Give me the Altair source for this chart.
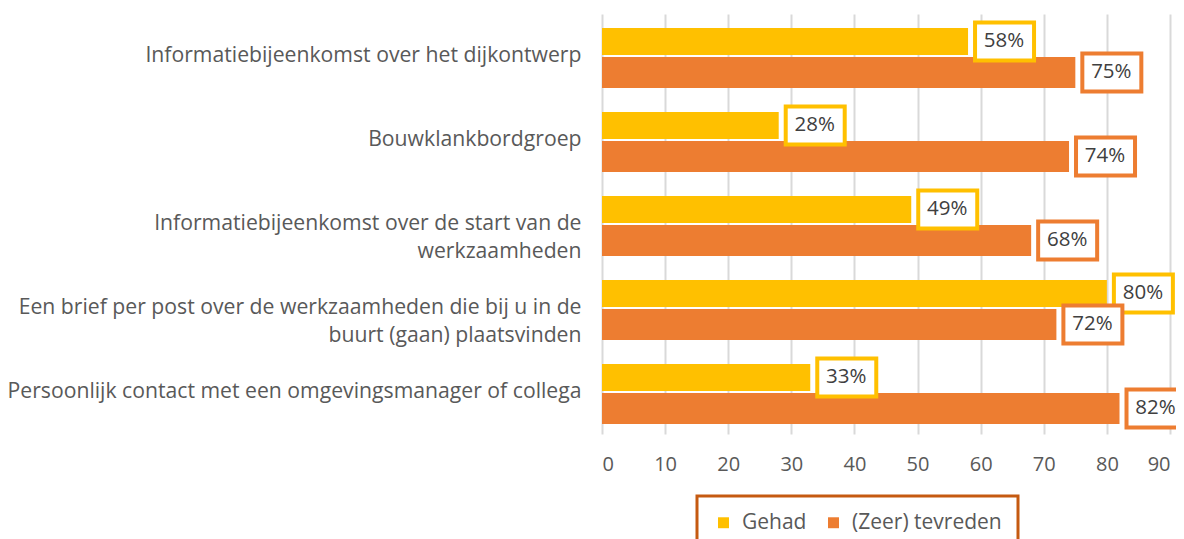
import altair as alt
import pandas as pd

categories = [
    "Informatiebijeenkomst over het dijkontwerp",
    "Bouwklankbordgroep",
    "Informatiebijeenkomst over de start van de|werkzaamheden",
    "Een brief per post over de werkzaamheden die bij u in de|buurt (gaan) plaatsvinden",
    "Persoonlijk contact met een omgevingsmanager of collega",
]
series = ["Gehad", "(Zeer) tevreden"]
gehad = [58, 28, 49, 80, 33]
tevreden = [75, 74, 68, 72, 82]
colors = ["#FFC000", "#ED7D31"]
x_ticks = [0, 10, 20, 30, 40, 50, 60, 70, 80, 90]

rows = []
for c, g, t in zip(categories, gehad, tevreden):
    rows.append({"cat": c, "series": series[0], "value": g})
    rows.append({"cat": c, "series": series[1], "value": t})
df = pd.DataFrame(rows)

FONT = "Open Sans"
TXT = "#595959"

y_enc = alt.Y(
    "cat:N",
    sort=categories,
    scale=alt.Scale(paddingInner=0, paddingOuter=0),
    axis=alt.Axis(
        title=None,
        labelExpr="split(datum.label, '|')",
        labelFontSize=21.2,
        labelFont=FONT,
        labelColor=TXT,
        labelLineHeight=28,
        labelPadding=21,
        labelLimit=0,
        ticks=False,
        domain=False,
    ),
)
x_enc = alt.X(
    "value:Q",
    scale=alt.Scale(domain=[0, 90], nice=False),
    axis=alt.Axis(
        title=None,
        values=x_ticks,
        grid=True,
        gridColor="#D9D9D9",
        gridWidth=2,
        ticks=False,
        domain=False,
        labelFontSize=20,
        labelFont=FONT,
        labelColor=TXT,
        labelPadding=20,
    ),
)
color_enc = alt.Color(
    "series:N",
    sort=series,
    scale=alt.Scale(domain=series, range=colors),
    legend=alt.Legend(
        title=None,
        orient="none",
        legendX=95,
        legendY=482,
        direction="horizontal",
        strokeColor="#C55A11",
        padding=16,
        symbolType="square",
        symbolSize=120,
        symbolStrokeWidth=0,
        labelOffset=8,
        labelFontSize=21,
        labelFont=FONT,
        labelColor=TXT,
        columnPadding=16,
    ),
)

base = alt.Chart(df).transform_calculate(label="datum.value + '%'")

style = {
    series[0]: {"h": 27, "off": -14.6, "col": colors[0]},
    series[1]: {"h": 31, "off": 16.4, "col": colors[1]},
}

layers = []
for s in series:
    st = style[s]
    b = base.transform_filter(alt.datum.series == s)
    layers.append(
        b.mark_bar(height=st["h"], yOffset=st["off"]).encode(x=x_enc, y=y_enc, color=color_enc)
    )
for s in series:
    st = style[s]
    b = base.transform_filter(alt.datum.series == s)
    layers.append(
        b.transform_calculate(value2="datum.value").mark_bar(
            height=38,
            yOffset=st["off"],
            xOffset=7,
            x2Offset=66,
            fill="white",
            stroke=st["col"],
            strokeWidth=4,
        ).encode(x="value:Q", x2="value2:Q", y=alt.Y("cat:N", sort=categories))
    )
    layers.append(
        b.mark_text(
            xOffset=36,
            yOffset=st["off"],
            align="center",
            baseline="middle",
            fontSize=20.5,
            font=FONT,
            color="#404040",
        ).encode(x="value:Q", y=alt.Y("cat:N", sort=categories), text="label:N")
    )

chart = (
    alt.layer(*layers)
    .properties(
        width=568,
        height=420,
        autosize=alt.AutoSizeParams(type="none"),
        padding={"left": 594, "top": 6, "right": 6, "bottom": 105},
        background="white",
    )
    .configure_view(strokeWidth=0)
    .configure_legend(strokeWidth=3)
)

chart.save("out.html", embed_options={"renderer": "svg", "actions": False})
